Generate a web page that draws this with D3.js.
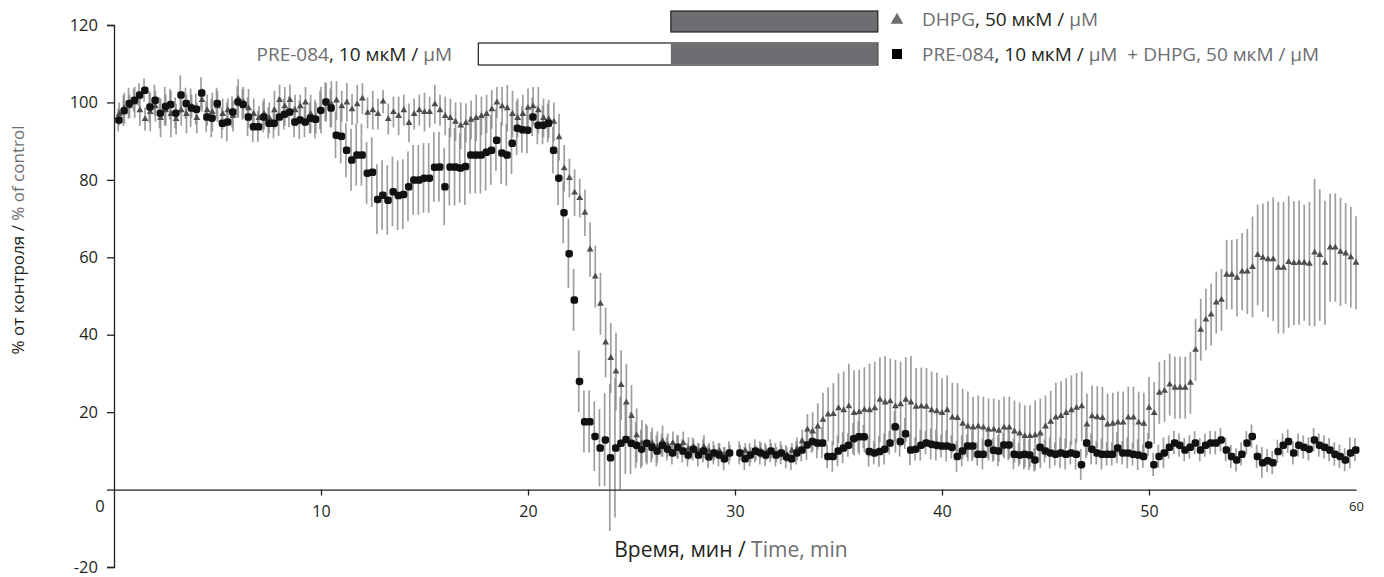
<!DOCTYPE html>
<html>
<head>
<meta charset="utf-8">
<script src="https://cdn.jsdelivr.net/npm/d3@7"></script>
<style>
  body { margin: 0; background: #fff; }
  svg text { font-family: "Open Sans", "Noto Sans", sans-serif; fill: #231f20; white-space: pre; }
  .gray { fill: #6d6e71; }
</style>
</head>
<body>
<div id="chart"></div>
<script>
// sampling every 15 s, 0.25 .. 60 min
const times = d3.range(1, 241).map(k => k * 0.25);

// DHPG 50 uM (triangles), mean % of control
const triMean = [
  97, 98.5, 99, 100,   98, 95.7, 97.5, 99,   96, 98, 97, 95.7,   98, 97, 99, 96,
  100.6, 98, 97.5, 99,   97, 98, 96.5, 101,   100, 98.5, 97, 96,   97, 96, 98, 100.6,
  99, 100.6, 98, 99,   100, 97, 96, 98,
  100, 99.5, 100.5, 99,   100, 98.2, 99.5, 101,   97.3, 98, 97, 100.2,   95.7, 97.5, 96.5, 98,
  94.7, 97, 98, 97.5,   97.5, 99.5, 98, 96.5,   96, 95, 94, 94.7,   95.5, 96, 96.5, 97,
  98.2, 100, 99, 98.5,   97, 96, 97, 98.6,
  99, 98, 96, 95.7,   95, 91, 83, 80.5,   76.7, 75.3, 71.5, 62,   55, 48, 38, 34,
  30.5, 27, 22.5, 19,   14, 12, 11.5, 12,   11, 12.5, 11.5, 12,   11, 12, 10.5, 11,
  10, 11, 10, 9.5,   10, 9, 9.5, null,
  9.5, 10, 9, 9.5,   10, 9.5, 10, 9,   9.5, 9, 10, 10.5,   12.5, 15.5, 15, 16.3,
  18, 19.4, 19.5, 21,   20.5, 21.5, 19.8, 20,   20.6, 20.5, 21, 23.2,   22.5, 22.8, 21.5, 22,
  23.2, 22.5, 21.4, 21.5,   21.4, 20.5, 20.2, 19.8,
  20.5, 18.6, 18.5, 17,   16.3, 16, 16.3, 16,   15.5, 15.5, 15.2, 16,   16, 15, 14.5, 13.8,
  13.8, 14, 14.5, 16.3,   17.5, 18.6, 19, 19.8,   20.5, 21.1, 21.5, 16.8,   18.9, 18.7, 18.5, 16.8,
  17, 17.3, 17.3, 18.6,   18.6, 17.3, 17, 21.1,
  19.8, 25, 25.5, 27.1,   26.3, 26.3, 26.3, 27.6,   36.1, 41.3, 43.9, 45.2,   48.3, 49, 55.5, 55.5,
  54.7, 56.3, 56.3, 57.5,   60.6, 59.9, 59.5, 59.5,   57.3, 57.3, 58.8, 58.5,   58.6, 58.6, 58.3, 61.2,
  60.6, 58.6, 62.5, 62.5,   61.4, 61, 60, 58.6
];
const triErr = [
  3, 4, 3, 4,   4, 3, 5, 4,   5, 4, 6, 4,   4, 5, 3, 4,   3, 4, 5, 4,
  4, 3, 4, 5,   4, 5, 4, 3,   4, 4, 5, 4,   5, 4, 4, 3,   4, 5, 4, 6,
  5, 6, 5, 4,   5, 4, 5, 4,   4, 5, 4, 3,   4, 4, 5, 4,   5, 4, 4, 5,
  4, 5, 4, 5,   5, 5, 6, 5,   5, 6, 5, 5,   5, 4, 5, 6,   6, 5, 5, 5,
  5, 6, 5, 5,   5, 6, 6, 5,   6, 5, 6, 7,   8, 8, 9, 9,   10, 9, 10, 8,
  7, 6, 5, 4,   4, 4, 3, 3,   3, 3, 3, 2,   2, 3, 2, 2,   2, 2, 2, 0,
  2, 2, 2, 2,   2, 2, 2, 2,   2, 2, 2, 3,   3, 4, 5, 6,   7, 7, 8, 9,
  10, 11, 11, 11,   11, 12, 12, 11,   12, 11, 12, 11,   11, 12, 10, 10,   10, 10, 10, 9,
  9, 9, 9, 9,   9, 8, 8, 8,   8, 8, 8, 8,   8, 8, 8, 8,   8, 9, 9, 8,
  8, 9, 9, 9,   9, 9, 9, 8,   8, 8, 8, 8,   8, 8, 8, 8,   8, 8, 8, 8,
  8, 8, 8, 8,   8, 8, 8, 8,   8, 8, 8, 8,   8, 8, 9, 9,   10, 10, 11, 13,
  13, 14, 15, 16,   17, 17, 17, 16,   16, 15, 16, 19,   17, 16, 14, 14,   14, 13, 13, 12
];

// PRE-084 10 uM + DHPG 50 uM (squares)
const sqMean = [
  95.5, 97.9, 99.8, 100.6,   102, 103.2, 98.9, 100.6,   97.3, 99, 99.5, 97.3,   102, 99.8, 98.6, 98.3,
  102.5, 96.3, 96, 99.8,   94.7, 95, 97.6, 100.2,   99.5, 96.3, 93.8, 93.8,   96.3, 94.7, 94.7, 96.3,
  97, 97.6, 95, 95.5,   95, 96, 95.7, 98,
  100.2, 98.6, 91.6, 91.3,   87.7, 85.2, 86.5, 86.5,   81.8, 82, 75, 76.1,   74.8, 77, 76, 76.3,
  78.3, 80, 80, 80.5,   80.5, 83.3, 83.4, 78.3,   83.4, 83.4, 83.1, 83.5,   86.5, 86.5, 86.5, 87.2,
  87.7, 90.3, 87, 86.5,   89.5, 93.4, 93, 92.9,
  96.3, 94.2, 94.2, 94.7,   87.7, 80.5, 71.6, 61,   49, 28, 17.6, 17.6,   13.8, 10.8, 12.9, 8.3,
  10.8, 12, 13, 12,   11.5, 10.5, 12, 11,   10, 11.5, 10.5, 9.5,   11, 10, 9, 10.5,
  9, 10, 8.5, 9.5,   9, 8, 9.5, null,
  9.5, 8, 9, 10,   9.5, 9, 10, 9,   9.5, 8.5, 8, 9.5,   10.3, 11.6, 12.5, 12.1,
  12.1, 8.6, 8.6, 10,   10.8, 11.5, 13.2, 13.7,   13.7, 9.9, 9.5, 9.9,   10.5, 12.1, 16.3, 12.5,
  14.5, 10.3, 10.5, 11.5,   12.1, 11.8, 11.5, 11.3,
  11.3, 11, 8.6, 10,   11.3, 11.3, 9.2, 9.2,   12.1, 10.2, 10, 11.6,   11.6, 9.2, 9, 9.2,
  9, 7.7, 11, 10,   9.5, 9.2, 9.5, 9.2,   9.5, 9.2, 6.5, 12.1,   10.5, 9.5, 9.2, 9.2,
  9.2, 10.8, 9.5, 9.5,   9.2, 9, 8.6, 11.6,
  6.5, 8.6, 9.5, 11,   12.1, 11.5, 10.3, 11,   12.1, 10.3, 11.5, 12.1,   12.1, 12.9, 10.3, 8.6,
  7.7, 9.2, 12.1, 13.8,   8.6, 7, 7.5, 7,   9.9, 11.5, 12.5, 9.5,   11.5, 11, 10.5, 12.9,
  11.5, 11, 10.3, 9.2,   8.6, 7.7, 9.5, 10.3
];
const sqErr = [
  3, 4, 4, 3,   3, 3, 4, 4,   4, 5, 4, 4,   5, 4, 5, 4,   4, 4, 5, 4,
  4, 5, 4, 4,   4, 5, 4, 4,   4, 4, 4, 5,   4, 4, 4, 5,   4, 4, 5, 5,
  5, 5, 6, 7,   7, 8, 8, 8,   8, 9, 9, 9,   9, 9, 9, 9,   9, 9, 9, 9,
  9, 9, 9, 10,   10, 10, 9, 10,   10, 10, 10, 10,   9, 8, 8, 8,   8, 7, 6, 6,
  5, 5, 5, 5,   6, 7, 8, 9,   8, 8, 8, 8,   9, 10, 12, 19,   18, 12, 9, 8,
  6, 5, 5, 4,   4, 3, 3, 3,   3, 3, 3, 3,   3, 3, 3, 3,   3, 3, 3, 0,
  3, 3, 3, 3,   3, 3, 3, 3,   3, 3, 3, 3,   3, 4, 3, 4,   4, 3, 4, 4,
  4, 3, 4, 4,   3, 4, 3, 4,   4, 3, 4, 4,   4, 4, 3, 4,   3, 4, 4, 3,
  4, 3, 4, 4,   3, 4, 3, 4,   4, 3, 4, 3,   4, 4, 3, 4,   4, 3, 4, 3,
  4, 3, 4, 4,   3, 4, 4, 4,   4, 3, 4, 3,   3, 4, 3, 4,   3, 4, 3, 3,
  3, 3, 4, 3,   3, 3, 3, 3,   3, 3, 3, 3,   3, 3, 3, 3,   3, 3, 3, 3,
  3, 4, 3, 3,   3, 3, 3, 3,   3, 3, 3, 3,   3, 3, 3, 3,   3, 3, 4, 3
];

const xTicks = [10, 20, 30, 40, 50, 60];
const yTicks = [-20, 0, 20, 40, 60, 80, 100, 120];
// application bars (min): PRE-084 alone, then DHPG
const preStart = 17.6, dhpgStart = 26.9, dhpgEnd = 36.9;

const w = 1384, h = 577;
const svg = d3.select("#chart").append("svg").attr("width", w).attr("height", h);

const x = d3.scaleLinear().domain([0, 60]).range([114, 1356]);
const y = d3.scaleLinear().domain([-20, 120]).range([567, 25]);

const tri = times.map((t, i) => ({t: t, v: triMean[i], e: triErr[i]})).filter(d => d.v != null);
const sq = times.map((t, i) => ({t: t, v: sqMean[i], e: sqErr[i]})).filter(d => d.v != null);

// error bars
const bars = svg.append("g").attr("stroke", "#858688").attr("stroke-width", 1.7).attr("stroke-opacity", 0.8);
bars.selectAll(".et").data(tri).enter().append("line")
  .attr("x1", d => x(d.t)).attr("x2", d => x(d.t))
  .attr("y1", d => y(d.v - d.e)).attr("y2", d => y(d.v + d.e));
bars.selectAll(".es").data(sq).enter().append("line")
  .attr("x1", d => x(d.t) - 1).attr("x2", d => x(d.t) - 1)
  .attr("y1", d => y(d.v - d.e)).attr("y2", d => y(d.v + d.e));

// markers
const triSym = d3.symbol().type(d3.symbolTriangle).size(20);
svg.append("g").selectAll("path").data(tri).enter().append("path")
  .attr("d", triSym)
  .attr("transform", d => "translate(" + x(d.t) + "," + y(d.v) + ")")
  .attr("fill", "#4d4d4f");

svg.append("g").selectAll("rect").data(sq).enter().append("rect")
  .attr("x", d => x(d.t) - 4).attr("y", d => y(d.v) - 3.5)
  .attr("width", 7.5).attr("height", 7.5).attr("rx", 2.8)
  .attr("fill", "#111");

// axes
const yAxis = d3.axisLeft(y).tickValues(yTicks).tickSize(7).tickPadding(9).tickFormat(d => d < 0 ? "-" + (-d) : d);
const gy = svg.append("g").attr("transform", "translate(" + x(0) + ",0)").call(yAxis);
gy.select(".domain").attr("stroke", "#231f20").attr("stroke-width", 1.3);
gy.selectAll(".tick line").attr("stroke", "#231f20").attr("stroke-width", 1.3);
gy.selectAll(".tick text").style("font-size", "16.5px").attr("fill", "#231f20");
gy.selectAll(".tick").filter(d => d === 0).select("text").attr("dx", "0.4em").attr("dy", "1.3em");

const xAxis = d3.axisBottom(x).tickValues(xTicks).tickSize(6).tickPadding(10).tickSizeOuter(0);
const gx = svg.append("g").attr("transform", "translate(0," + y(0) + ")").call(xAxis);
gx.select(".domain").attr("stroke", "#231f20").attr("stroke-width", 1.3);
gx.selectAll(".tick line").attr("stroke", "#231f20").attr("stroke-width", 1.3);
gx.selectAll(".tick text").style("font-size", "16px").attr("fill", "#231f20");
gx.selectAll(".tick").filter(d => d === 60).select("line").remove();
gx.selectAll(".tick").filter(d => d === 60).select("text").style("font-size", "13px").attr("dy", "0.4em");

// axis titles
const xt = svg.append("text").attr("x", 731).attr("y", 557).attr("text-anchor", "middle").style("font-size", "21px");
xt.append("tspan").text("Время, мин / ");
xt.append("tspan").attr("class", "gray").text("Time, min");

const yt = svg.append("text").attr("transform", "translate(24,240) rotate(-90)").attr("text-anchor", "middle").style("font-size", "17px");
yt.append("tspan").text("% от контроля / ");
yt.append("tspan").attr("class", "gray").text("% of control");

// application bars
svg.append("rect").attr("x", x(dhpgStart)).attr("y", 11).attr("width", x(dhpgEnd) - x(dhpgStart)).attr("height", 21)
  .attr("fill", "#6d6e71").attr("stroke", "#231f20").attr("stroke-width", 1.2);
svg.append("rect").attr("x", x(preStart)).attr("y", 43).attr("width", x(dhpgEnd) - x(preStart)).attr("height", 22)
  .attr("fill", "#fff").attr("stroke", "#231f20").attr("stroke-width", 1.2);
svg.append("rect").attr("x", x(dhpgStart)).attr("y", 43.6).attr("width", x(dhpgEnd) - x(dhpgStart) - 0.6).attr("height", 20.8)
  .attr("fill", "#6d6e71");

const pl = svg.append("text").attr("x", 452).attr("y", 61).attr("text-anchor", "end").style("font-size", "19px");
pl.append("tspan").attr("class", "gray").text("PRE-084");
pl.append("tspan").text(", 10 мкМ / ");
pl.append("tspan").attr("class", "gray").text("µM");

// legend
svg.append("path").attr("d", d3.symbol().type(d3.symbolTriangle).size(70))
  .attr("transform", "translate(897,20)").attr("fill", "#6d6e71");
svg.append("rect").attr("x", 892).attr("y", 49).attr("width", 10).attr("height", 10).attr("fill", "#000");

const l1 = svg.append("text").attr("x", 922).attr("y", 26).style("font-size", "19px");
l1.append("tspan").attr("class", "gray").text("DHPG");
l1.append("tspan").text(", 50 мкМ / ");
l1.append("tspan").attr("class", "gray").text("µM");

const l2 = svg.append("text").attr("x", 922).attr("y", 61).style("font-size", "19px");
l2.append("tspan").attr("class", "gray").text("PRE-084");
l2.append("tspan").text(", 10 мкМ / ");
l2.append("tspan").attr("class", "gray").text("µM  + DHPG, 50 мкМ / µM");
</script>
</body>
</html>
